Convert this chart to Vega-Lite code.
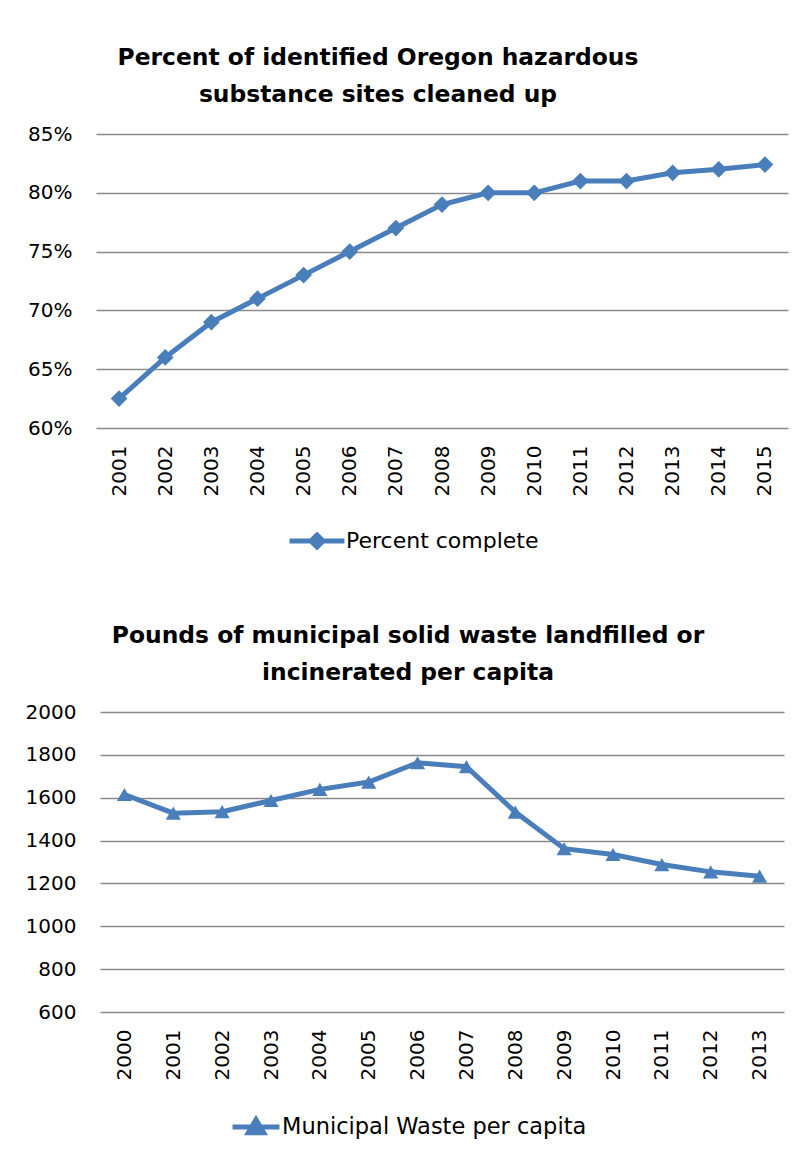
{
  "$schema": "https://vega.github.io/schema/vega-lite/v6.json",
  "background": "white",
  "padding": {"left": 25, "top": 45, "right": 20, "bottom": 0},
  "columns": 1,
  "center": true,
  "spacing": 65,
  "config": {
    "font": "DejaVu Sans",
    "view": {"stroke": null},
    "axis": {"labelFont": "DejaVu Sans", "labelFontSize": 20, "labelColor": "#000000", "domain": false, "ticks": false, "title": null, "gridColor": "#8a8a8a", "gridWidth": 1.6},
    "legend": {"labelFont": "DejaVu Sans", "labelFontSize": 22, "labelColor": "#000000", "title": null, "labelLimit": 0},
    "title": {"font": "DejaVu Sans", "fontSize": 23.4, "fontWeight": "bold", "color": "#000000", "lineHeight": 37, "anchor": "middle"}
  },
  "resolve": {"scale": {"color": "independent", "shape": "independent"}, "legend": {"color": "independent", "shape": "independent"}},
  "concat": [
    {
      "width": 692,
      "height": 294,
      "title": {"text": ["Percent of identified Oregon hazardous", "substance sites cleaned up"], "dx": -64, "offset": 17},
      "data": {"values": [
        {"year": "2001", "pct": 62.5},
        {"year": "2002", "pct": 66},
        {"year": "2003", "pct": 69},
        {"year": "2004", "pct": 71},
        {"year": "2005", "pct": 73},
        {"year": "2006", "pct": 75},
        {"year": "2007", "pct": 77},
        {"year": "2008", "pct": 79},
        {"year": "2009", "pct": 80},
        {"year": "2010", "pct": 80},
        {"year": "2011", "pct": 81},
        {"year": "2012", "pct": 81},
        {"year": "2013", "pct": 81.7},
        {"year": "2014", "pct": 82},
        {"year": "2015", "pct": 82.4}
      ]},
      "encoding": {
        "x": {"field": "year", "type": "ordinal", "scale": {"padding": 0.5}, "axis": {"labelAngle": -90, "labelPadding": 17, "grid": false}},
        "y": {"field": "pct", "type": "quantitative", "scale": {"domain": [60, 85]}, "axis": {"values": [60, 65, 70, 75, 80, 85], "labelExpr": "datum.value + '%'", "labelPadding": 24, "grid": true}},
        "color": {"datum": "Percent complete", "scale": {"range": ["#4A7EBB"]}, "legend": {"orient": "none", "legendX": 200, "legendY": 386, "symbolType": "M-1.5,0L1.5,0M0,-0.33L0.33,0L0,0.33L-0.33,0Z", "symbolSize": 1344, "symbolStrokeWidth": 5, "labelOffset": 8}}
      },
      "layer": [
        {"mark": {"type": "line", "strokeWidth": 5}},
        {"mark": {"type": "point", "shape": "diamond", "filled": true, "size": 280, "opacity": 1}}
      ]
    },
    {
      "width": 684,
      "height": 300,
      "title": {"text": ["Pounds of municipal solid waste landfilled or", "incinerated per capita"], "dx": -34, "offset": 17},
      "data": {"values": [
        {"year": "2000", "lbs": 1615},
        {"year": "2001", "lbs": 1528},
        {"year": "2002", "lbs": 1535},
        {"year": "2003", "lbs": 1587},
        {"year": "2004", "lbs": 1639},
        {"year": "2005", "lbs": 1673},
        {"year": "2006", "lbs": 1763},
        {"year": "2007", "lbs": 1745},
        {"year": "2008", "lbs": 1533},
        {"year": "2009", "lbs": 1362},
        {"year": "2010", "lbs": 1335},
        {"year": "2011", "lbs": 1288},
        {"year": "2012", "lbs": 1254},
        {"year": "2013", "lbs": 1234}
      ]},
      "encoding": {
        "x": {"field": "year", "type": "ordinal", "scale": {"padding": 0.5}, "axis": {"labelAngle": -90, "labelPadding": 17, "grid": false}},
        "y": {"field": "lbs", "type": "quantitative", "scale": {"domain": [600, 2000]}, "axis": {"values": [600, 800, 1000, 1200, 1400, 1600, 1800, 2000], "format": "d", "labelPadding": 24, "grid": true}},
        "color": {"datum": "Municipal Waste per capita", "scale": {"range": ["#4A7EBB"]}, "legend": {"orient": "none", "legendX": 135, "legendY": 394, "labelFontSize": 22.5, "symbolType": "M-1.28,0L1.28,0M0,-0.4L0.42,0.32L-0.42,0.32Z", "symbolSize": 1344, "symbolStrokeWidth": 5, "labelOffset": 5}}
      },
      "layer": [
        {"mark": {"type": "line", "strokeWidth": 5}},
        {"mark": {"type": "point", "shape": "triangle-up", "filled": true, "size": 230, "opacity": 1}}
      ]
    }
  ]
}
